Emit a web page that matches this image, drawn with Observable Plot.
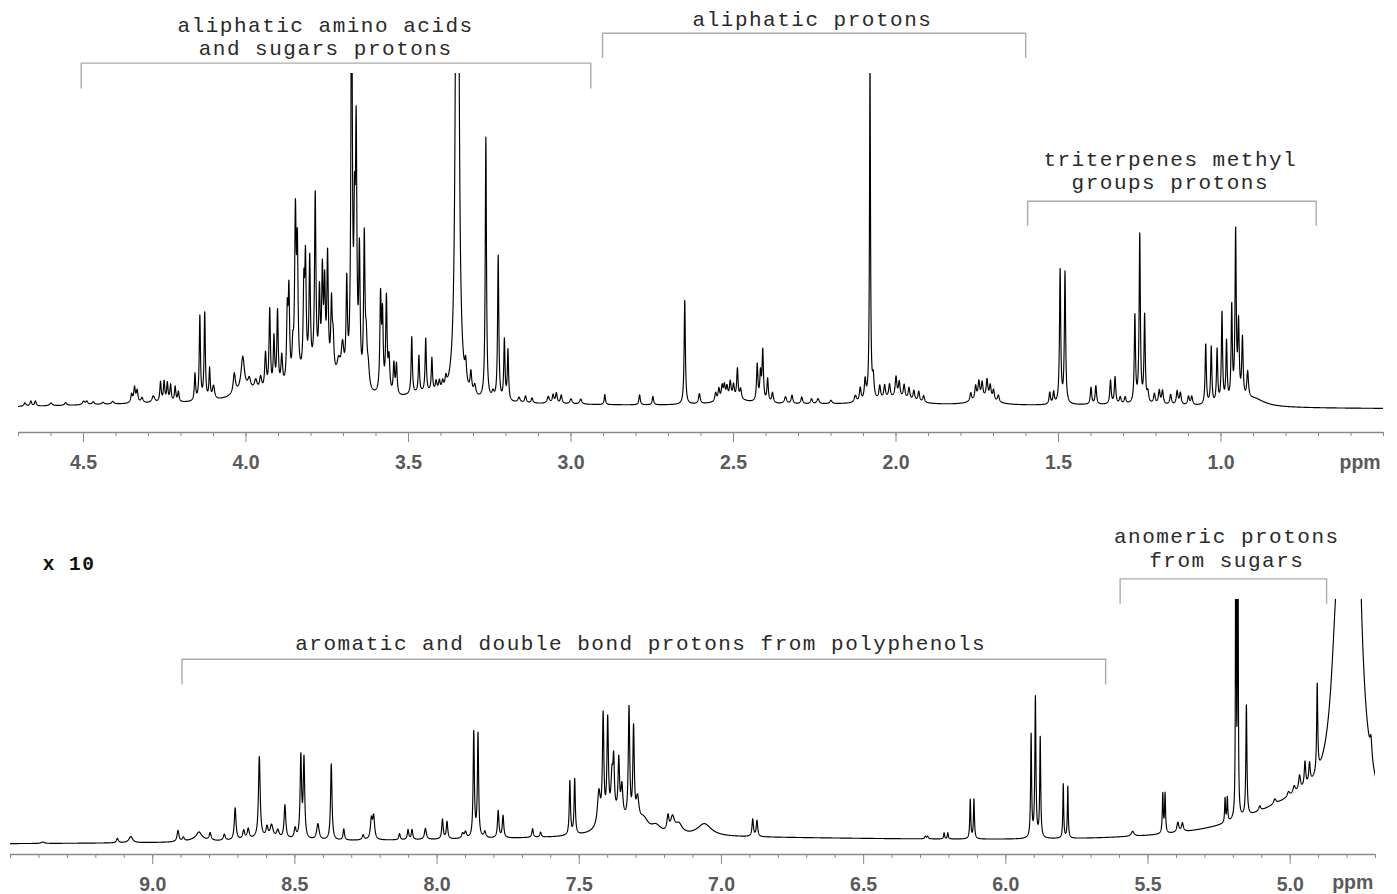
<!DOCTYPE html>
<html><head><meta charset="utf-8">
<script src="https://cdn.jsdelivr.net/npm/d3@7"></script>
<script src="https://cdn.jsdelivr.net/npm/@observablehq/plot@0.6"></script>
<style>
html,body{margin:0;padding:0;background:#fff;}
#chart{position:relative;width:1397px;height:894px;overflow:hidden;}
#top,#bottom{position:absolute;left:0;}
#top{top:0;} #bottom{top:480px;}
g[font-family*="Courier"] text{letter-spacing:1.5px;}
</style></head><body>
<div id="chart"><div id="top"></div><div id="bottom"></div></div>
<script>
// ---------- DATA (ppm, height, half-width in ppm) ----------
// Upper spectrum 4.7 - 0.5 ppm
const topPeaks = [
 [4.680,1.0,.004],[4.662,1.5,.003],[4.648,1.5,.003],[4.600,0.8,.005],[4.555,0.8,.004],[4.500,1.0,.004],[4.490,1.0,.004],[4.470,0.8,.004],[4.440,0.6,.004],[4.410,0.8,.004],
 [4.352,2.5,.003],[4.343,4.5,.003],[4.335,3.5,.003],[4.320,1.5,.004],[4.285,2,.005],
 [4.263,6,.0025],[4.252,6,.0025],[4.242,5.5,.0025],[4.232,5,.0025],[4.218,4.5,.0025],[4.208,3,.0025],
 [4.157,8,.0022],[4.142,25,.0022],[4.127,26,.0022],[4.112,9,.0022],[4.100,4,.004],
 [4.036,6,.004],[4.010,10,.006],[3.990,3,.005],[3.970,3,.005],[3.955,4,.004],
 [3.940,11,.003],[3.927,24,.0025],[3.914,15,.0025],[3.903,23,.0025],[3.890,9,.003],
 [3.873,20,.0025],[3.868,26,.0025],[3.856,8,.0025],[3.848,48,.0028],[3.842,36,.0025],
 [3.822,24,.0025],[3.817,32,.0025],[3.804,33,.0025],[3.787,52,.0025],[3.774,22,.0025],
 [3.765,28,.0025],[3.758,24,.0025],[3.749,34,.0025],[3.737,20,.0025],[3.732,10,.003],
 [3.715,5,.006],[3.703,10,.005],[3.690,28,.0025],[3.675,130,.0025],[3.666,40,.0025],
 [3.661,70,.0025],[3.651,38,.0025],[3.636,44,.0025],[3.630,12,.003],[3.624,6,.004],
 [3.586,28,.0025],[3.580,22,.0025],[3.568,28,.0025],[3.560,10,.003],[3.545,9,.0025],[3.537,9,.0025],
 [3.490,17,.0022],[3.468,11,.0022],[3.447,16,.0022],[3.428,10,.0022],
 [3.415,3,.003],[3.405,3,.003],[3.395,2.5,.003],[3.385,3,.003],
 [3.350,380,.0036],[3.324,6,.003],[3.308,6,.003],[3.296,3,.004],
 [3.262,78,.0022],[3.240,2,.004],[3.224,43,.0022],[3.205,18,.0022],[3.194,15,.0022],
 [3.160,1.5,.004],[3.140,2,.003],[3.120,1.5,.003],[3.070,2,.004],[3.055,2.5,.003],[3.045,3,.003],[3.030,2.5,.003],[3.000,1.5,.004],[2.970,1.5,.004],
 [2.896,3,.0022],[2.789,3,.0025],[2.748,2.5,.0025],
 [2.650,31,.0022],[2.605,3,.003],
 [2.555,2.5,.003],[2.545,3.5,.003],[2.535,4,.003],[2.528,4,.003],[2.520,3.5,.003],[2.510,5,.003],[2.500,4,.003],[2.488,9,.0025],[2.478,3,.003],
 [2.427,11,.0025],[2.417,8,.0025],[2.410,15,.0025],[2.395,7,.0025],[2.380,3,.003],
 [2.340,2,.004],[2.320,2.5,.003],[2.290,2,.003],[2.260,1.5,.003],[2.240,1.5,.004],[2.200,1,.004],
 [2.125,2,.004],[2.110,4,.003],[2.095,6,.003],[2.080,100,.0018],[2.070,6,.003],[2.050,4,.003],[2.035,4,.003],
 [2.020,4,.003],[2.000,6,.003],[1.990,4.5,.003],[1.975,4,.003],[1.960,3.5,.003],[1.945,3,.003],[1.930,3,.003],[1.915,2,.003],
 [1.770,2.5,.003],[1.755,4,.003],[1.745,5,.003],[1.735,4.5,.003],[1.720,5.5,.003],[1.710,4,.003],[1.700,3,.003],[1.685,2,.003],
 [1.527,3.5,.0025],[1.515,3.5,.0025],[1.495,40,.0022],[1.480,39,.0022],
 [1.400,5,.0025],[1.385,5.5,.0025],[1.340,7,.0025],[1.326,8,.0025],[1.310,2,.003],[1.295,2,.003],
 [1.265,26,.0022],[1.250,50,.0022],[1.235,26,.0022],
 [1.225,3,.003],[1.205,3,.003],[1.190,4,.003],[1.180,4,.003],[1.155,3,.003],[1.135,4,.003],[1.125,3.5,.003],[1.100,2.5,.003],[1.090,2.5,.003],
 [1.047,18,.0022],[1.030,17,.0022],[1.012,16,.0022],[0.997,27,.0022],[0.983,18,.0022],
 [0.967,28,.0022],[0.955,50,.0022],[0.946,22,.0025],[0.934,18,.0025],[0.918,8,.003]
];
const topBroad = [
 [4.30,1.2,0.40],[3.20,1.0,0.50],[2.20,1.0,0.50],[1.30,1.0,0.35],[3.78,9,0.09],[4.00,3,0.05],
 [3.45,2.5,0.08],[2.00,2,0.06],[1.73,2,0.04],[2.50,1.5,0.06],[0.90,2.5,0.04]
];
// Lower spectrum 9.5 - 4.7 ppm (x 10)
const bottomPeaks = [
 [9.387,0.6,.006],[9.124,1.8,.004],[9.077,2.5,.008],[8.911,4.5,.004],[8.892,1.5,.004],[8.837,2.5,.01],[8.798,3,.004],[8.748,2.5,.004],
 [8.710,13,.0035],[8.680,3.5,.004],[8.664,4,.004],[8.625,33,.0035],[8.598,4,.004],[8.582,5,.006],[8.560,3,.005],[8.535,13.5,.0035],
 [8.499,4,.004],[8.479,33,.003],[8.468,32,.003],[8.419,6.5,.005],[8.372,31,.003],[8.328,4.5,.003],[8.260,2,.004],[8.231,8,.004],[8.223,9,.004],
 [8.132,2.5,.003],[8.102,4,.003],[8.088,4,.003],[8.041,4.5,.004],[7.981,8,.003],[7.965,7,.003],[7.910,2,.004],[7.900,2.5,.004],
 [7.871,43,.0025],[7.856,42,.0025],[7.832,2.5,.004],[7.785,11,.003],[7.768,9,.003],[7.664,3.5,.003],[7.636,2,.003],
 [7.533,22,.0025],[7.516,22.5,.0025],
 [7.431,14,.006],[7.416,43,.003],[7.400,40,.003],[7.385,15,.004],[7.379,20,.003],[7.361,22,.003],[7.350,12,.004],
 [7.325,46,.003],[7.309,38,.003],[7.295,10,.006],
 [7.188,6,.004],[7.172,6,.008],
 [6.890,7,.003],[6.875,6.5,.003],[6.283,1,.003],[6.275,1,.003],[6.217,2.5,.002],[6.204,2.5,.002],
 [6.125,16,.002],[6.112,16,.002],[5.911,42,.002],[5.896,57,.0022],[5.879,41,.002],[5.798,22,.0018],[5.782,21,.0018],
 [5.554,2,.006],[5.448,16,.002],[5.440,16,.002],[5.395,4,.004],[5.379,3.5,.004],
 [5.229,10,.0018],[5.221,10,.0018],[5.191,250,.001],[5.184,250,.001],[5.154,45,.0022],[5.107,2,.004],
 [5.054,2,.005],[5.006,2,.005],[4.986,3,.005],[4.967,6,.004],[4.948,10,.003],[4.932,8,.003],[4.905,36,.0022],
 [4.840,30,.02],[4.790,1500,.01],[4.716,8,.004]
];
const bottomBroad = [
 [7.20,3.2,1.2],[7.37,8,0.05],[4.95,16,0.25],[8.84,1.5,0.03],[8.60,1.5,0.10],[7.06,5,0.03],
 [7.274,5,0.02],[7.23,3,0.02],[7.15,4,0.015]
];
// Axis ticks
const topMajorTicks = [4.5, 4.0, 3.5, 3.0, 2.5, 2.0, 1.5, 1.0];
const bottomMajorTicks = [9.0, 8.5, 8.0, 7.5, 7.0, 6.5, 6.0, 5.5, 5.0];
const topMinorTicks = d3.range(47, 4, -1).map(d => d / 10);
const bottomMinorTicks = d3.range(95, 46, -1).map(d => d / 10);
// Annotations (ppm, intensity units)
const topLabels = [
 {ppm: 3.755, v: 105.4, text: "aliphatic amino acids\nand sugars protons"},
 {ppm: 2.257, v: 114.0, text: "aliphatic protons"},
 {ppm: 1.156, v: 65.5, text: "triterpenes methyl\ngroups protons"}
];
const topBrackets = [
 {id: 1, from: 4.507, to: 2.939, top: 103.1, leg: 95.7},
 {id: 2, from: 2.903, to: 1.601, top: 112.0, leg: 104.8},
 {id: 3, from: 1.595, to: 0.707, top: 62.0, leg: 54.8}
];
const bottomLabels = [
 {ppm: 7.284, v: 79.5, text: "aromatic and double bond protons from polyphenols"},
 {ppm: 5.223, v: 113.4, text: "anomeric protons\nfrom sugars"}
];
const scaleLabel = [{ppm: 9.387, v: 111.8, text: "x 10"}];
const bottomBrackets = [
 {id: 1, from: 8.897, to: 5.649, top: 75.7, leg: 65.7},
 {id: 2, from: 5.598, to: 4.872, top: 108.4, leg: 98.5}
];

// ---------- build spectra from peak lists (Lorentzian line shapes) ----------
function spectrum(peaks, broad, from, to, step) {
  const all = peaks.concat(broad);
  const out = [];
  const n = Math.round((from - to) / step);
  for (let i = 0; i <= n; i++) {
    const x = from - i * step;
    let s = 0;
    for (const [c, h, w] of all) { const d = x - c; s += h * w * w / (d * d + w * w); }
    out.push({ppm: x, v: s});
  }
  return out;
}
function bracketPoints(b) {
  return b.flatMap(d => [
    {id: d.id, ppm: d.from, v: d.leg}, {id: d.id, ppm: d.from, v: d.top},
    {id: d.id, ppm: d.to, v: d.top}, {id: d.id, ppm: d.to, v: d.leg}]);
}
const topData = spectrum(topPeaks, topBroad, 4.7, 0.5, 0.0004);
const bottomData = spectrum(bottomPeaks, bottomBroad, 9.5, 4.7, 0.0004);

const AXIS = "#8a8a8a", LABEL = "#5a5a5a", MONO = "'Courier New', 'Liberation Mono', monospace";
const sans = "'Liberation Sans', Arial, sans-serif";

function panel({data, domain, height, marginTop, marginBottom, marginLeft, marginRight, inset, major, minor, labels, brackets, ppmX, ppmDy, extra}) {
  return Plot.plot({
    width: 1397, height, marginTop, marginBottom, marginLeft, marginRight,
    style: {fontFamily: sans, background: "#fff", overflow: "visible"},
    x: {domain, label: null},
    y: {domain: [0, 100], insetBottom: inset, axis: null, label: null},
    marks: [
      Plot.line(bracketPoints(brackets), {x: "ppm", y: "v", z: "id", stroke: "#ababab", strokeWidth: 1.4}),
      Plot.text(labels, {x: "ppm", y: "v", text: "text", lineAnchor: "bottom", textAnchor: "middle",
        fontFamily: MONO, fontSize: 21, lineHeight: 1.11, fill: "#2a2a2a"}),
      ...(extra || []),
      Plot.line(data, {x: "ppm", y: "v", stroke: "#000", strokeWidth: 1.15, clip: true}),
      Plot.ruleY([0], {dy: inset, stroke: AXIS, strokeWidth: 1.5}),
      Plot.axisX(minor, {tickSize: 4, tickFormat: () => "", stroke: AXIS, label: null}),
      Plot.axisX(major, {tickSize: 10, tickPadding: 12.5, tickFormat: d3.format(".1f"), stroke: AXIS, color: LABEL,
        fontSize: 19.5, fontWeight: "bold", label: null}),
      Plot.text([{ppm: ppmX, v: 0}], {x: "ppm", y: "v", text: () => "ppm", dy: ppmDy, fontSize: 19.5,
        fontWeight: "bold", fill: LABEL, fontFamily: sans})
    ]
  });
}

document.getElementById("top").append(panel({
  data: topData, domain: [4.7, 0.5], height: 480, marginTop: 73, marginBottom: 48, marginLeft: 18, marginRight: 14, inset: 23,
  major: topMajorTicks, minor: topMinorTicks, labels: topLabels, brackets: topBrackets, ppmX: 0.572, ppmDy: 53
}));
document.getElementById("bottom").append(panel({
  data: bottomData, domain: [9.5, 4.7], height: 414, marginTop: 119, marginBottom: 40, marginLeft: 10, marginRight: 22, inset: 9,
  major: bottomMajorTicks, minor: bottomMinorTicks, labels: bottomLabels, brackets: bottomBrackets, ppmX: 4.78, ppmDy: 37,
  extra: [Plot.text(scaleLabel, {x: "ppm", y: "v", text: "text", lineAnchor: "bottom", textAnchor: "start",
    fontFamily: MONO, fontSize: 19.5, fontWeight: "bold", fill: "#111"})]
}));
</script></body></html>
